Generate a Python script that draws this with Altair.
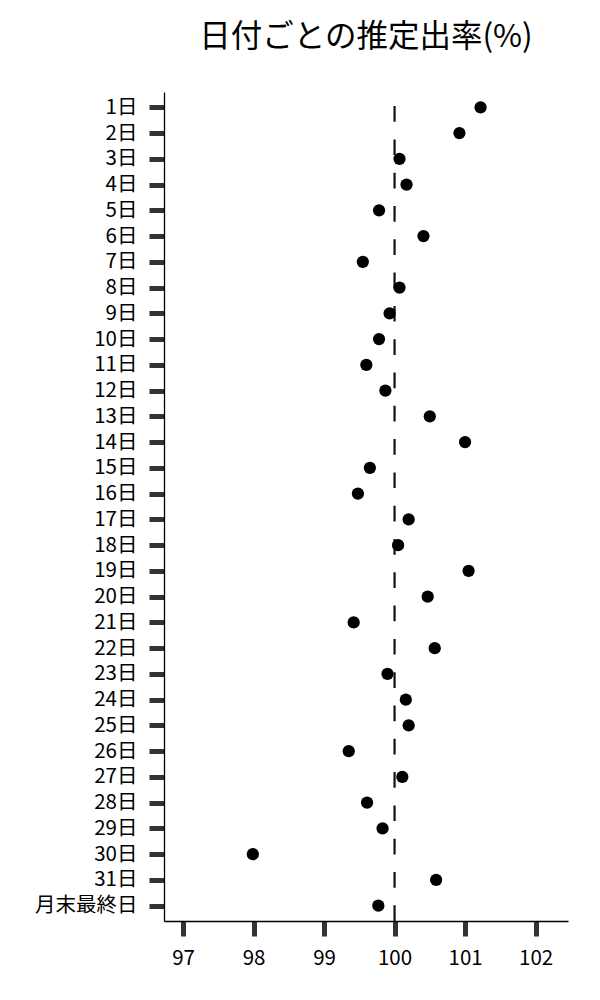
import altair as alt
import pandas as pd

# ---- data ----
days = [f"{i}日" for i in range(1, 32)] + ["月末最終日"]
rates = [101.22, 100.92, 100.07, 100.17, 99.78, 100.41, 99.55, 100.07,
         99.93, 99.78, 99.60, 99.87, 100.50, 101.00, 99.65, 99.48,
         100.20, 100.05, 101.05, 100.47, 99.42, 100.57, 99.90, 100.16,
         100.20, 99.35, 100.11, 99.61, 99.83, 97.99, 100.59, 99.77]
x_ticks = [97, 98, 99, 100, 101, 102]
x_domain = [96.73, 102.46]
reference = [100]

FONT = "Noto Sans CJK JP"
W, H = 404, 829

df = pd.DataFrame({"day": days, "rate": rates})
ref_df = pd.DataFrame({"ref": reference})

x_scale = alt.Scale(domain=x_domain, nice=False, zero=False)

rule = alt.Chart(ref_df).mark_rule(
    color="#111111", strokeWidth=2.2, strokeDash=[15.7, 17.6]
).encode(
    x=alt.X("ref:Q", scale=x_scale),
    y=alt.value(H),
    y2=alt.value(0),
)

points = alt.Chart(df).mark_circle(size=150, color="black", opacity=1).encode(
    x=alt.X(
        "rate:Q",
        scale=x_scale,
        axis=alt.Axis(values=x_ticks, title=None, grid=False, format="d",
                      labelFlush=False),
    ),
    y=alt.Y(
        "day:N",
        sort=days,
        scale=alt.Scale(type="point", padding=0.594),
        axis=alt.Axis(title=None, grid=False, labelOverlap=False),
    ),
)

chart = alt.layer(rule, points).properties(
    width=W,
    height=H,
    padding={"left": 156, "top": 84, "right": 20, "bottom": 55},
    autosize=alt.AutoSizeParams(type="none"),
    title=alt.TitleParams(
        "日付ごとの推定出率(%)",
        font=FONT,
        fontSize=31.5,
        fontWeight="normal",
        color="black",
        anchor="middle",
        baseline="alphabetic",
        offset=12,
    ),
).configure_view(stroke=None).configure_axis(
    domainColor="black",
    domainWidth=1.3,
    tickColor="#333333",
    tickWidth=5,
    tickSize=15,
    labelFont=FONT,
    labelFontSize=20.5,
    labelColor="black",
    labelPadding=12,
)

chart.save("out.html", embed_options={"renderer": "svg", "actions": False})
